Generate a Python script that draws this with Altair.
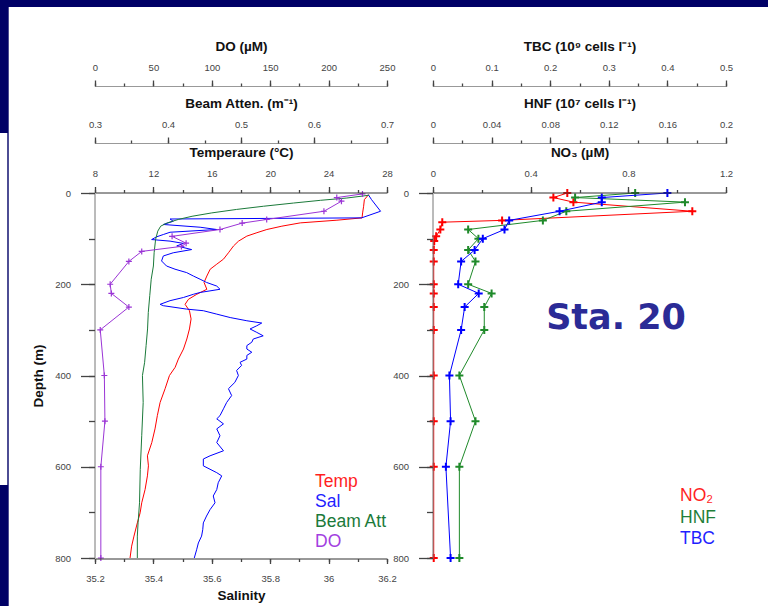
import altair as alt
import pandas as pd

# ---------------- data ----------------
temp_depth = [3.6, 14.5, 29, 43.6, 54.5, 59.6, 65.5, 72.7, 80, 87, 94.5, 105.5, 116, 131, 145, 156, 167,
              182, 196, 211, 222, 233, 244, 258, 276, 298, 320, 342, 364, 382, 400, 429, 459, 488, 517,
              547, 576, 598, 620, 650, 679, 701, 723, 752, 774, 800]
temp_val = [26.74, 26.45, 26.4, 26.33, 26.29, 24.57, 22.06, 20.8, 19.77, 19.09, 18.4, 17.83, 17.49, 17.14,
            16.8, 16.34, 15.89, 15.66, 15.47, 15.66, 14.97, 14.4, 14.17, 14.47, 14.58, 14.47, 14.29, 14.06,
            13.71, 13.49, 13.1, 12.8, 12.46, 12.27, 12.11, 11.89, 11.59, 11.66, 11.59, 11.43, 11.2, 11.09,
            10.9, 10.67, 10.51, 10.4]

sal_depth = [3.6, 14.5, 40, 54.5, 57, 62, 69, 75, 80, 86, 91, 96, 102, 105.5, 110.5, 116, 124, 131, 138,
             149, 160, 167, 174.5, 182, 189, 196, 204, 211, 218, 222, 229, 236, 244, 247, 254.5, 258,
             265.5, 273, 280, 285, 291, 298, 305.5, 313, 320, 327, 334.5, 342, 349, 356, 364, 371, 378,
             389, 400, 415, 429, 444, 459, 473, 488, 495, 506, 517, 532, 547, 565, 576, 583, 598, 613,
             620, 635, 650, 664, 679, 694, 708, 723, 738, 752, 767, 782, 800]
sal_val = [36.136, 36.147, 36.178, 36.113, 35.457, 35.468, 35.434, 35.56, 35.617, 35.457, 35.434, 35.411,
           35.394, 35.457, 35.503, 35.48, 35.531, 35.468, 35.434, 35.428, 35.445, 35.474, 35.514, 35.537,
           35.56, 35.582, 35.617, 35.628, 35.56, 35.537, 35.503, 35.457, 35.423, 35.434, 35.514, 35.571,
           35.617, 35.663, 35.72, 35.771, 35.754, 35.731, 35.754, 35.776, 35.742, 35.737, 35.72, 35.72,
           35.737, 35.72, 35.72, 35.697, 35.702, 35.685, 35.691, 35.679, 35.657, 35.668, 35.651, 35.64,
           35.628, 35.617, 35.64, 35.617, 35.628, 35.617, 35.64, 35.594, 35.571, 35.571, 35.617, 35.634,
           35.622, 35.617, 35.605, 35.611, 35.594, 35.582, 35.571, 35.569, 35.565, 35.554, 35.548, 35.54]

beam_depth = [5, 11, 16, 22, 29, 36, 43.6, 51, 58, 65.5, 72.7, 83.6, 101.8, 131, 160, 189, 225, 262, 298,
              334.5, 371, 400, 459, 532, 606, 679, 723, 752, 800]
beam_val = [0.675, 0.645, 0.609, 0.572, 0.531, 0.494, 0.46, 0.433, 0.414, 0.399, 0.39, 0.386, 0.383,
            0.381, 0.38, 0.377, 0.375, 0.373, 0.372, 0.37, 0.368, 0.365, 0.366, 0.364, 0.362, 0.361,
            0.359, 0.358, 0.358]

do_depth = [2, 10, 18, 40, 58, 66, 80, 95, 110, 117, 128, 150, 200, 220, 250, 300, 400, 500, 600, 800]
do_val = [229, 207, 211, 196, 147, 126, 107, 66, 78, 74, 40, 29, 13, 14, 29, 4.5, 8, 8.5, 5, 5]

no2_depth = [0, 10, 20, 40, 60, 64, 80, 95, 105, 125, 150, 200, 220, 250, 300, 400, 500, 600, 800]
no2_val = [0.55, 0.493, 0.575, 1.062, 0.283, 0.038, 0.03, 0.013, 0.005, 0.003, 0.003, 0.003, 0.003,
           0.003, 0.003, 0.003, 0.003, 0.003, 0.003]

bio_depth = [0, 10, 20, 40, 60, 80, 100, 125, 150, 200, 220, 250, 300, 400, 500, 600, 800]
hnf_val = [0.138, 0.097, 0.172, 0.091, 0.075, 0.024, 0.031, 0.024, 0.029, 0.024, 0.04, 0.035, 0.035,
           0.018, 0.029, 0.018, 0.018]
tbc_val = [0.40, 0.288, 0.288, 0.216, 0.13, 0.122, 0.085, 0.071, 0.048, 0.043, 0.078, 0.054, 0.048,
           0.028, 0.03, 0.022, 0.03]

# tick values: labelled (major) and all ticks (minor)
temp_major = [8, 12, 16, 20, 24, 28]
temp_minor = [8, 10, 12, 14, 16, 18, 20, 22, 24, 26, 28]
sal_major = [35.2, 35.4, 35.6, 35.8, 36.0, 36.2]
sal_minor = [35.2, 35.3, 35.4, 35.5, 35.6, 35.7, 35.8, 35.9, 36.0, 36.1, 36.2]
beam_major = [0.3, 0.4, 0.5, 0.6, 0.7]
beam_minor = [0.3, 0.35, 0.4, 0.45, 0.5, 0.55, 0.6, 0.65, 0.7]
do_major = [0, 50, 100, 150, 200, 250]
do_minor = [0, 25, 50, 75, 100, 125, 150, 175, 200, 225, 250]
no3_major = [0, 0.4, 0.8, 1.2]
no3_minor = [0, 0.2, 0.4, 0.6, 0.8, 1.0, 1.2]
hnf_major = [0, 0.04, 0.08, 0.12, 0.16, 0.2]
hnf_minor = [0, 0.02, 0.04, 0.06, 0.08, 0.1, 0.12, 0.14, 0.16, 0.18, 0.2]
tbc_major = [0, 0.1, 0.2, 0.3, 0.4, 0.5]
tbc_minor = [0, 0.05, 0.1, 0.15, 0.2, 0.25, 0.3, 0.35, 0.4, 0.45, 0.5]
depth_major = [0, 200, 400, 600, 800]
depth_minor = [0, 100, 200, 300, 400, 500, 600, 700, 800]

left_labels = ["Temp", "Sal", "Beam Att", "DO"]
left_colors = ["#ff1f1f", "#1f1fff", "#1b7a3a", "#a23ee0"]
right_labels = ["NO\u2082", "HNF", "TBC"]
right_colors = ["#ff1f1f", "#1f7f3a", "#1f1fff"]
station = ["Sta. 20"]

RED, BLUE, GREEN, PURPLE, RGREEN = "#ff0000", "#0000ff", "#1b7a3a", "#9b35d6", "#1f8a2a"
NAVY = "#000066"

# ---------------- layout ----------------
W, H = 631, 365
L_RANGE = [0, 292]
R_RANGE = [338, 631]
PLUS = "M-1,0H1M0,-1V1"
LABEL_EXPR = "toString(round(datum.value*1000)/1000)"
TICK = "#444"
GRAY_DOM = "#999"
EDGE = 0.5   # small offset for the axes that sit on the plot edge


def frame(d, v):
    return pd.DataFrame({"depth": d, "v": v})


def depth_scale():
    return alt.Scale(domain=[0, 800], reverse=True, nice=False, zero=False)


def xscale(dom, rng):
    return alt.Scale(domain=dom, range=rng, nice=False, zero=False)


def main_axis(orient, values, title, offset=EDGE, size=6, dom="#333", pad=8, tpad=9):
    kw = dict(orient=orient, values=values, offset=offset, zindex=2, tickSize=size, ticks=True,
              labelExpr=LABEL_EXPR, labelPadding=pad, domainColor=dom, tickColor=TICK)
    if title:
        kw["title"] = title
        kw["titlePadding"] = tpad
    else:
        kw["title"] = None
    return alt.Axis(**kw)


def minor_axis(orient, values, offset=EDGE, size=3):
    return alt.Axis(orient=orient, values=values, offset=offset, zindex=2, tickSize=size, ticks=True,
                    labels=False, domain=False, title=None, tickColor=TICK)


def ghost(df, xsc, xaxis=None, yaxis=None):
    # invisible layer that only carries the minor-tick axes of a scale
    return alt.Chart(df).mark_line(opacity=0).encode(
        x=alt.X("v:Q", scale=xsc, axis=xaxis),
        y=alt.Y("depth:Q", scale=depth_scale(), axis=yaxis),
        order=alt.Order("depth:Q"))


one = pd.DataFrame({"a": [0]})


def navy_rect(x1, x2, y1, y2):
    return alt.Chart(one).mark_rect(color=NAVY).encode(
        x=alt.value(x1), x2=alt.value(x2), y=alt.value(y1), y2=alt.value(y2))


# slide frame (page coordinates shifted by the padding: x-95, y-193)
frame_top = navy_rect(-95, 673, -193, -186)
frame_left_top = navy_rect(-95, -86.3, -186, -60)
frame_left_line = navy_rect(-87.7, -86.3, -60, 292)
frame_left_bottom = navy_rect(-95, -86.3, 292, 413)

df_temp = frame(temp_depth, temp_val)
df_sal = frame(sal_depth, sal_val)
df_beam = frame(beam_depth, beam_val)
df_do = frame(do_depth, do_val)
df_no2 = frame(no2_depth, no2_val)
df_hnf = frame(bio_depth, hnf_val)
df_tbc = frame(bio_depth, tbc_val)

# ---- left panel ----
temp = alt.Chart(df_temp).mark_line(color=RED, strokeWidth=1).encode(
    x=alt.X("v:Q", scale=xscale([8, 28], L_RANGE),
            axis=main_axis("top", temp_major, "Temperaure (\u00b0C)")),
    y=alt.Y("depth:Q", scale=depth_scale(),
            axis=alt.Axis(orient="left", values=depth_major, offset=EDGE, zindex=2, tickSize=14,
                          ticks=True, labelExpr=LABEL_EXPR, labelPadding=10, domainColor="#777",
                          tickColor=TICK, title="Depth (m)", titlePadding=9)),
    order=alt.Order("depth:Q"))
temp_ghost = ghost(df_temp, xscale([8, 28], L_RANGE),
                   minor_axis("top", temp_minor),
                   minor_axis("left", depth_minor, size=6))

sal = alt.Chart(df_sal).mark_line(color=BLUE, strokeWidth=1).encode(
    x=alt.X("v:Q", scale=xscale([35.2, 36.2], L_RANGE),
            axis=main_axis("bottom", sal_major, "Salinity", size=5, pad=10, tpad=5)),
    y=alt.Y("depth:Q", scale=depth_scale(), axis=None),
    order=alt.Order("depth:Q"))
sal_ghost = ghost(df_sal, xscale([35.2, 36.2], L_RANGE), minor_axis("bottom", sal_minor))

beam = alt.Chart(df_beam).mark_line(color=GREEN, strokeWidth=1).encode(
    x=alt.X("v:Q", scale=xscale([0.3, 0.7], L_RANGE),
            axis=main_axis("top", beam_major, "Beam Atten. (m\u207b\u00b9)", offset=50, dom=GRAY_DOM)),
    y=alt.Y("depth:Q", scale=depth_scale(), axis=None),
    order=alt.Order("depth:Q"))
beam_ghost = ghost(df_beam, xscale([0.3, 0.7], L_RANGE), minor_axis("top", beam_minor, offset=50))

do_line = alt.Chart(df_do).mark_line(color=PURPLE, strokeWidth=1).encode(
    x=alt.X("v:Q", scale=xscale([0, 250], L_RANGE),
            axis=main_axis("top", do_major, "DO (\u00b5M)", offset=107, dom=GRAY_DOM)),
    y=alt.Y("depth:Q", scale=depth_scale(), axis=None),
    order=alt.Order("depth:Q"))
do_ghost = ghost(df_do, xscale([0, 250], L_RANGE), minor_axis("top", do_minor, offset=107))
do_pts = alt.Chart(df_do).mark_point(
    shape=PLUS, size=36, filled=False, strokeWidth=1.2, color=PURPLE, opacity=1).encode(
    x=alt.X("v:Q", scale=xscale([0, 250], L_RANGE), axis=None),
    y=alt.Y("depth:Q", scale=depth_scale(), axis=None))

# ---- right panel ----
no2_line = alt.Chart(df_no2).mark_line(color=RED, strokeWidth=1).encode(
    x=alt.X("v:Q", scale=xscale([0, 1.2], R_RANGE),
            axis=main_axis("top", no3_major, "NO\u2083 (\u00b5M)")),
    y=alt.Y("depth:Q", scale=depth_scale(),
            axis=alt.Axis(orient="left", values=depth_major, offset=-337.5, zindex=2, tickSize=14,
                          ticks=True, labelExpr=LABEL_EXPR, labelPadding=10, domainColor="#777",
                          tickColor=TICK, title=None)),
    order=alt.Order("depth:Q"))
no2_ghost = ghost(df_no2, xscale([0, 1.2], R_RANGE),
                  minor_axis("top", no3_minor),
                  minor_axis("left", depth_minor, offset=-337.5, size=6))
no2_pts = alt.Chart(df_no2).mark_point(
    shape=PLUS, size=64, filled=False, strokeWidth=2, color=RED, opacity=1).encode(
    x=alt.X("v:Q", scale=xscale([0, 1.2], R_RANGE), axis=None),
    y=alt.Y("depth:Q", scale=depth_scale(), axis=None))

hnf_line = alt.Chart(df_hnf).mark_line(color=RGREEN, strokeWidth=1).encode(
    x=alt.X("v:Q", scale=xscale([0, 0.2], R_RANGE),
            axis=main_axis("top", hnf_major, "HNF (10\u2077 cells l\u207b\u00b9)", offset=50, dom=GRAY_DOM)),
    y=alt.Y("depth:Q", scale=depth_scale(), axis=None),
    order=alt.Order("depth:Q"))
hnf_ghost = ghost(df_hnf, xscale([0, 0.2], R_RANGE), minor_axis("top", hnf_minor, offset=50))
hnf_pts = alt.Chart(df_hnf).mark_point(
    shape=PLUS, size=64, filled=False, strokeWidth=2, color=RGREEN, opacity=1).encode(
    x=alt.X("v:Q", scale=xscale([0, 0.2], R_RANGE), axis=None),
    y=alt.Y("depth:Q", scale=depth_scale(), axis=None))

tbc_line = alt.Chart(df_tbc).mark_line(color=BLUE, strokeWidth=1).encode(
    x=alt.X("v:Q", scale=xscale([0, 0.5], R_RANGE),
            axis=main_axis("top", tbc_major, "TBC (10\u2079 cells l\u207b\u00b9)", offset=107, dom=GRAY_DOM)),
    y=alt.Y("depth:Q", scale=depth_scale(), axis=None),
    order=alt.Order("depth:Q"))
tbc_ghost = ghost(df_tbc, xscale([0, 0.5], R_RANGE), minor_axis("top", tbc_minor, offset=107))
tbc_pts = alt.Chart(df_tbc).mark_point(
    shape=PLUS, size=64, filled=False, strokeWidth=2, color=BLUE, opacity=1).encode(
    x=alt.X("v:Q", scale=xscale([0, 0.5], R_RANGE), axis=None),
    y=alt.Y("depth:Q", scale=depth_scale(), axis=None))

# ---- text ----
left_leg = alt.Chart(pd.DataFrame({"label": left_labels, "c": left_colors})).mark_text(
    align="left", baseline="middle", font="Liberation Sans", fontSize=17.5).encode(
    text="label:N",
    color=alt.Color("c:N", scale=None),
    x=alt.value(220),
    y=alt.Y("label:N", scale=alt.Scale(type="point", domain=left_labels, range=[289, 349], padding=0),
            axis=None))

right_leg = alt.Chart(pd.DataFrame({"label": right_labels, "c": right_colors})).mark_text(
    align="left", baseline="middle", font="Liberation Sans", fontSize=17.5).encode(
    text="label:N",
    color=alt.Color("c:N", scale=None),
    x=alt.value(585),
    y=alt.Y("label:N", scale=alt.Scale(type="point", domain=right_labels, range=[303, 346], padding=0),
            axis=None))

sta = alt.Chart(pd.DataFrame({"t": station})).mark_text(
    align="center", baseline="middle", font="DejaVu Sans", fontWeight="bold", fontSize=35,
    color="#2b2b96").encode(text="t:N", x=alt.value(521), y=alt.value(125))

chart = alt.layer(
    frame_top, frame_left_top, frame_left_line, frame_left_bottom,
    temp, temp_ghost, sal, sal_ghost, beam, beam_ghost, do_line, do_ghost, do_pts,
    no2_line, no2_ghost, no2_pts, hnf_line, hnf_ghost, hnf_pts, tbc_line, tbc_ghost, tbc_pts,
    left_leg, right_leg, sta,
).resolve_scale(
    x="independent", y="independent", color="independent"
).properties(
    width=W, height=H,
    autosize=alt.AutoSizeParams(type="none"),
    padding={"left": 95, "top": 193, "right": 42, "bottom": 48},
    background="white",
).configure_view(
    stroke=None
).configure_axis(
    grid=False,
    labelFont="Liberation Sans", labelFontSize=9.5, labelColor="#444",
    labelFlush=False, labelOverlap=False, labelBound=False,
    titleFont="Liberation Sans", titleFontSize=13.5, titleFontWeight="bold", titleColor="#111",
    domainWidth=1, tickWidth=1.3,
)

chart.save("out.html", embed_options={"renderer": "svg", "actions": False})
